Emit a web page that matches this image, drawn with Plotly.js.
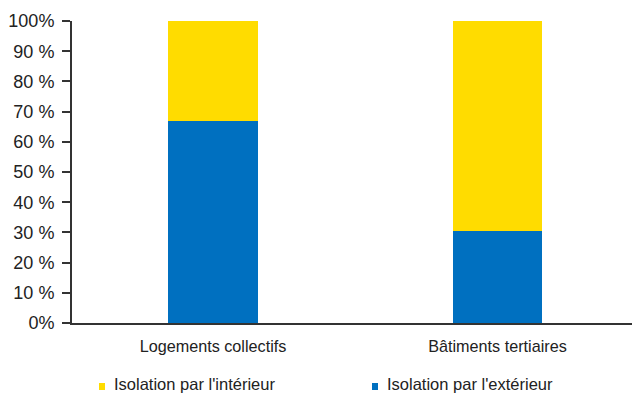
<!DOCTYPE html>
<html>
<head>
<meta charset="utf-8">
<script src="https://cdn.plot.ly/plotly-3.0.1.min.js"></script>
<style>
  html, body { margin: 0; padding: 0; background: #fff; overflow: hidden; }
  #chart { width: 632px; height: 394px; }
</style>
</head>
<body>
<div id="chart"></div>
<script>
// Part des techniques d'isolation par type de bâtiment (en %)
const categories = ["Logements collectifs", "Bâtiments tertiaires"];
const seriesNames = ["Isolation par l'extérieur", "Isolation par l'intérieur"];
const exterieur = [67, 30.5];
const interieur = [33, 69.5];
const yTickVals = [0, 10, 20, 30, 40, 50, 60, 70, 80, 90, 100];
const yTickText = ["0%", "10 %", "20 %", "30 %", "40 %", "50 %", "60 %", "70 %", "80 %", "90 %", "100%"];

const BLUE = "#0070C0";
const YELLOW = "#FFDC00";
const FONT = "Liberation Sans Narrow, Arial Narrow, Liberation Sans, sans-serif";

const traces = [
  { type: "bar", name: seriesNames[0], x: categories, y: exterieur,
    marker: { color: BLUE }, width: 0.316, hoverinfo: "skip" },
  { type: "bar", name: seriesNames[1], x: categories, y: interieur,
    marker: { color: YELLOW }, width: 0.316, hoverinfo: "skip" }
];

// Legend drawn as small squares + labels below the axis
const legendItems = [
  { name: seriesNames[1], color: YELLOW, x: 99 },
  { name: seriesNames[0], color: BLUE, x: 372 }
];
const plotL = 72, plotR = 632, plotT = 21, plotB = 323;
const pxX = px => (px - plotL) / (plotR - plotL);
const pxY = py => (plotB - py) / (plotB - plotT);

const shapes = [];
const annotations = [];
legendItems.forEach(it => {
  shapes.push({ type: "rect", xref: "paper", yref: "paper",
    x0: pxX(it.x), x1: pxX(it.x + 6), y0: pxY(390), y1: pxY(383),
    fillcolor: it.color, line: { width: 0 } });
  annotations.push({ xref: "paper", yref: "paper", x: pxX(it.x + 14), y: pxY(384),
    xanchor: "left", yanchor: "middle", showarrow: false, text: it.name,
    borderpad: 0,
    font: { family: FONT, size: 16.5, color: "#222" } });
});

const layout = {
  width: 632, height: 394,
  margin: { l: plotL, r: 0, t: plotT, b: 394 - plotB, pad: 0 },
  barmode: "stack",
  bargap: 0,
  showlegend: false,
  paper_bgcolor: "#fff", plot_bgcolor: "#fff",
  font: { family: FONT, size: 16, color: "#222" },
  xaxis: {
    type: "category",
    range: [-0.4956, 1.4728],
    showline: true, linecolor: "#333", linewidth: 2,
    ticks: "", showgrid: false, zeroline: false,
    ticklabelstandoff: 8,
    tickfont: { family: FONT, size: 16.2, color: "#222" }
  },
  yaxis: {
    range: [0, 100],
    tickvals: yTickVals, ticktext: yTickText,
    showline: true, linecolor: "#333", linewidth: 2,
    ticks: "outside", ticklen: 8, tickwidth: 2, tickcolor: "#333",
    ticklabelstandoff: 4,
    showgrid: false, zeroline: false,
    tickfont: { family: FONT, size: 18, color: "#222" }
  },
  shapes: shapes,
  annotations: annotations
};

Plotly.newPlot("chart", traces, layout, { displayModeBar: false, staticPlot: true });
</script>
</body>
</html>
